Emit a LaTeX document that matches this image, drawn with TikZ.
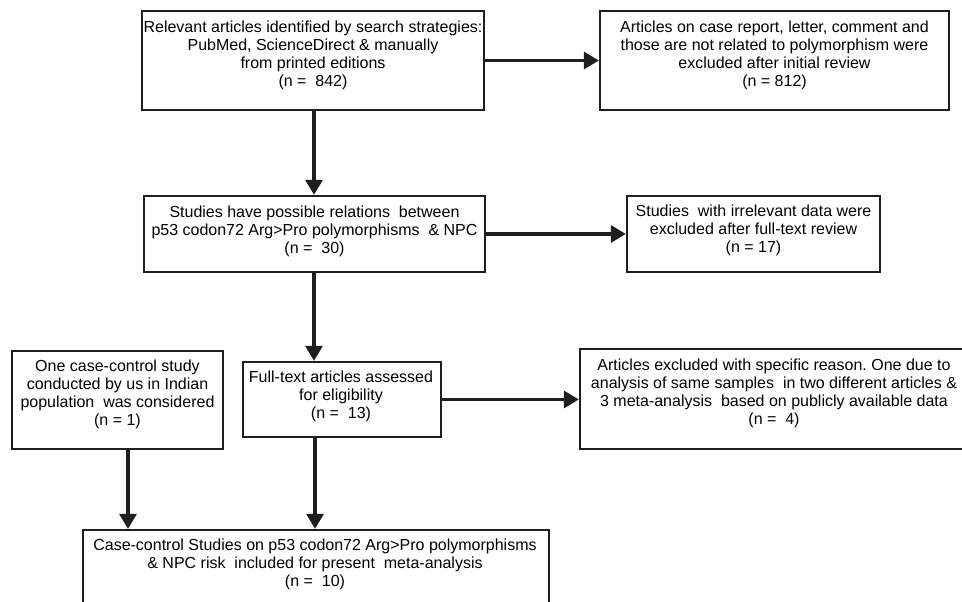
\documentclass[tikz,border=0pt]{standalone}
\usepackage{fontspec}
\setmainfont{Liberation Sans}
\usetikzlibrary{arrows.meta}
\definecolor{ink}{HTML}{1E1E1E}
\frenchspacing
\tikzset{
  box/.style={draw=ink, line width=2.3pt, rectangle, inner sep=0pt},
  txt/.style={align=center, inner sep=0pt, text=black, font=\fontsize{16}{18}\selectfont},
  flow/.style={draw=ink, line width=3.2pt, -{Triangle[length=15pt,width=17pt]}}
}
\begin{document}
\begin{tikzpicture}[x=1pt,y=-1pt]
\useasboundingbox (0,0) rectangle (962,602);
\clip (0,0) rectangle (962,602);
% boxes
\node[box, minimum width=342pt, minimum height=99pt] (b1) at (313,60.5) {};
\node[box, minimum width=349pt, minimum height=99pt] (b2) at (774.5,60.5) {};
\node[box, minimum width=341pt, minimum height=76pt] (b3) at (314.5,234) {};
\node[box, minimum width=253pt, minimum height=76pt] (b4) at (753.5,234) {};
\node[box, minimum width=211pt, minimum height=98pt] (b5) at (117.5,400) {};
\node[box, minimum width=198pt, minimum height=75pt] (b6) at (342,399.5) {};
\node[box, minimum width=390pt, minimum height=100pt] (b7) at (775,399) {};
\node[box, minimum width=466pt, minimum height=84pt] (b8) at (316,572) {};
% texts
\node[txt] (t1) at ([yshift=5pt]b1.center) {Relevant articles identified by search strategies:\\PubMed, ScienceDirect \& manually\\from printed editions\\(n = ~842)};
\node[txt] (t2) at ([yshift=5pt]b2.center) {Articles on case report, letter, comment and\\those are not related to polymorphism were\\excluded after initial review\\(n = 812)};
\node[txt] (t3) at ([yshift=3pt]b3.center) {Studies have possible relations ~between\\p53 codon72 Arg>Pro polymorphisms ~\& NPC\\(n = ~30)};
\node[txt] (t4) at ([yshift=4pt]b4.center) {Studies ~with irrelevant data were\\excluded after full-text review\\(n = 17)};
\node[txt] (t5) at ([yshift=6pt]b5.center) {One case-control study\\conducted by us in Indian\\population ~was considered\\(n = 1)};
\node[txt] (t6) at ([xshift=-1pt,yshift=3pt]b6.center) {Full-text articles assessed\\for eligibility\\(n = ~13)};
\node[txt] (t7) at ([xshift=-1pt,yshift=6pt]b7.center) {Articles excluded with specific reason. One due to\\analysis of same samples ~in two different articles \&\\3 meta-analysis ~based on publicly available data\\(n = ~4)};
\node[txt] (t8) at (315,564) {Case-control Studies on p53 codon72 Arg>Pro polymorphisms\\\& NPC risk ~included for present ~meta-analysis\\(n = ~10)};
% connectors
\coordinate (c1) at (314,110);
\coordinate (c3) at (314,272);
\coordinate (c5) at (128,449);
\coordinate (c6) at (315,437);
\draw[flow] (c1) -- (c1 |- b3.north);
\draw[flow] (b1.east) -- (b1.east -| b2.west);
\draw[flow] (b3.east) -- (b3.east -| b4.west);
\draw[flow] (c3) -- (c3 |- b6.north);
\draw[flow] (b6.east) -- (b6.east -| b7.west);
\draw[flow] (c5) -- (c5 |- b8.north);
\draw[flow] (c6) -- (c6 |- b8.north);
\end{tikzpicture}
\end{document}
